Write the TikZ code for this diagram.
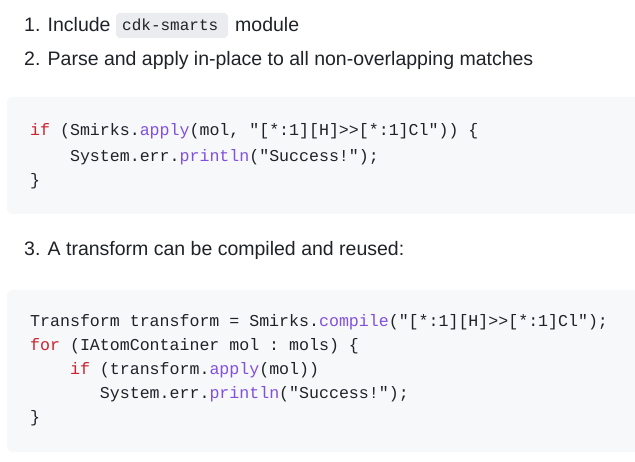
\documentclass[tikz,border=0pt]{standalone}
\usepackage{fontspec}
\setmainfont{Liberation Sans}
\setmonofont{Liberation Mono}
\definecolor{txt}{HTML}{1F2328}
\definecolor{kw}{HTML}{CF222E}
\definecolor{fn}{HTML}{8250DF}
\definecolor{bg}{HTML}{F6F8FA}
\definecolor{inl}{HTML}{EAECEF}
\newcommand{\K}[1]{\textcolor{kw}{#1}}
\newcommand{\F}[1]{\textcolor{fn}{#1}}
\begin{document}
\begin{tikzpicture}[x=1pt,y=-1pt,
  para/.style={anchor=west,inner sep=0pt,text=txt,font=\fontsize{19.5}{22}\selectfont},
  code/.style={anchor=west,inner sep=0pt,text=txt,font=\ttfamily\fontsize{16.6}{20}\selectfont},
  block/.style={fill=bg,rounded corners=6pt,draw=none}]
\useasboundingbox (0,0) rectangle (635,462);
\fill[white] (0,0) rectangle (635,462);
\fill[inl,rounded corners=4pt] (116,13) rectangle (228,38);
\node[para] (l1) at (24,25) {1. Include};
\node[code,font=\ttfamily\fontsize{16}{18}\selectfont] (ic) at (122,25) {cdk-smarts};
\node[para] (l1b) at (235,25) {module};
\node[para] (l2) at (24,60) {2. Parse and apply in-place to all non-overlapping matches};
\fill[block] (7,97) rectangle (645,214);
\node[code] (a1) at (30,131) {\K{if} (Smirks.\F{apply}(mol, "[*:1][H]>>[*:1]Cl")) \{};
\node[code] (a2) at (30,157) {\phantom{xxxx}System.err.\F{println}("Success!");};
\node[code] (a3) at (30,181) {\}};
\node[para] (l3) at (24,250) {3. A transform can be compiled and reused:};
\fill[block] (7,290) rectangle (645,452);
\node[code] (b1) at (30,322) {Transform transform = Smirks.\F{compile}("[*:1][H]>>[*:1]Cl");};
\node[code] (b2) at (30,346) {\K{for} (IAtomContainer mol : mols) \{};
\node[code] (b3) at (30,370) {\phantom{xxxx}\K{if} (transform.\F{apply}(mol))};
\node[code] (b4) at (30,394) {\phantom{xxxxxxx}System.err.\F{println}("Success!");};
\node[code] (b5) at (30,418) {\}};
\end{tikzpicture}
\end{document}
